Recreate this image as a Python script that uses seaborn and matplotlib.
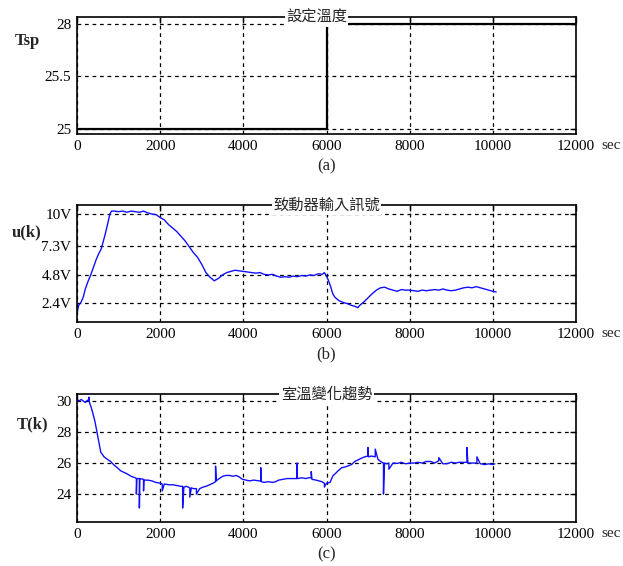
import matplotlib
matplotlib.use("Agg")
import matplotlib.pyplot as plt
import seaborn as sns

sns.set_theme(style="white")
plt.rcParams["font.family"] = ["Liberation Serif", "Noto Sans CJK TC", "DejaVu Sans"]

# (a) set-point temperature
t_a = [0, 6000, 6000, 12000]
tsp = [25.0, 25.0, 26.0, 26.0]
a_ticks = [25.0, 25.5, 26.0]
a_labels = ["25", "25.5", "28"]

# (b) actuator input signal
t_b = [0, 40, 100, 150, 200, 260, 330, 400, 460, 520, 580, 620, 680, 740, 790, 830,
       900, 1000, 1100, 1200, 1300, 1400, 1500, 1600, 1700, 1800, 1900, 2000, 2100,
       2200, 2300, 2400, 2500, 2600, 2700, 2800, 2900, 3000, 3100, 3200, 3300, 3350,
       3400, 3500, 3600, 3700, 3800, 3900, 4000, 4100, 4200, 4300, 4400, 4500, 4600,
       4700, 4800, 4900, 5000, 5100, 5200, 5300, 5400, 5500, 5600, 5700, 5800, 5900,
       5950, 6000, 6050, 6100, 6150, 6200, 6300, 6400, 6500, 6600, 6700, 6750, 6800,
       6900, 7000, 7100, 7200, 7300, 7400, 7500, 7600, 7700, 7800, 7900, 8000, 8100,
       8200, 8300, 8400, 8500, 8600, 8700, 8800, 8900, 9000, 9100, 9200, 9300, 9400,
       9500, 9600, 9700, 9800, 9900, 10000, 10080]
u_b = [1.5, 2.2, 2.5, 2.9, 3.6, 4.2, 4.8, 5.5, 6.1, 6.6, 7.0, 7.5, 8.3, 9.2, 10.0, 10.25,
       10.25, 10.2, 10.25, 10.15, 10.25, 10.2, 10.15, 10.25, 10.1, 10.0, 9.95, 9.7, 9.5,
       9.1, 8.8, 8.5, 8.1, 7.7, 7.2, 6.7, 6.3, 5.7, 5.0, 4.6, 4.3, 4.4,
       4.5, 4.8, 5.0, 5.1, 5.2, 5.15, 5.1, 5.05, 5.0, 4.95, 5.0, 4.85, 4.8,
       4.85, 4.7, 4.6, 4.65, 4.6, 4.7, 4.65, 4.75, 4.7, 4.8, 4.75, 4.9, 4.85,
       5.0, 4.7, 4.3, 3.8, 3.2, 2.9, 2.6, 2.45, 2.35, 2.2, 2.1, 2.0, 2.2,
       2.5, 2.85, 3.2, 3.5, 3.7, 3.75, 3.6, 3.5, 3.4, 3.55, 3.5, 3.5, 3.45,
       3.4, 3.5, 3.45, 3.5, 3.55, 3.5, 3.6, 3.5, 3.45, 3.5, 3.6, 3.7, 3.75,
       3.7, 3.8, 3.7, 3.6, 3.5, 3.4, 3.35]
b_ticks = [2.4, 4.8, 7.3, 10.0]
b_labels = ["2.4V", "4.8V", "7.3V", "10V"]

# (c) room temperature trend
t_c = [0, 50, 100, 150, 200, 250, 290, 290, 300, 340, 372, 400, 430, 452, 480, 507,
       530, 550, 571, 600, 650, 700, 750, 809, 880, 968, 1050, 1130, 1206, 1300, 1400,
       1428, 1428, 1440, 1500, 1500, 1510, 1600, 1600, 1610, 1700, 1800, 1900, 2000,
       2050, 2050, 2100, 2200, 2316, 2400, 2500, 2540, 2540, 2570, 2634, 2713, 2713,
       2750, 2800, 2872, 2872, 2950, 3030, 3100, 3189, 3270, 3332, 3332, 3348, 3420,
       3506, 3580, 3665, 3750, 3830, 3903, 3980, 4062, 4150, 4250, 4379, 4419, 4419,
       4430, 4500, 4600, 4700, 4776, 4850, 4950, 5050, 5173, 5291, 5291, 5300, 5400,
       5500, 5570, 5633, 5633, 5650, 5750, 5887, 5950, 5950, 6000, 6086, 6124, 6160,
       6205, 6280, 6364, 6450, 6500, 6602, 6680, 6760, 6830, 6918, 6997, 6997, 7010,
       7077, 7172, 7172, 7236, 7300, 7370, 7370, 7395, 7450, 7500, 7500, 7600, 7712,
       7800, 7900, 8000, 8109, 8200, 8300, 8400, 8506, 8600, 8700, 8700, 8800, 8902,
       9000, 9100, 9200, 9299, 9378, 9378, 9400, 9500, 9617, 9617, 9696, 9800, 9900,
       10000, 10050]
T_c = [30.1, 30.0, 30.1, 30.0, 29.9, 30.05, 30.0, 30.25, 29.9, 29.6, 29.3, 29.0, 28.7, 28.4, 28.0, 27.6,
       27.3, 27.0, 26.7, 26.6, 26.4, 26.3, 26.2, 26.1, 25.9, 25.7, 25.5, 25.4, 25.3, 25.15, 25.05,
       25.0, 24.0, 25.0, 25.0, 23.1, 25.0, 24.95, 24.2, 24.9, 24.9, 24.85, 24.75, 24.7,
       24.65, 24.2, 24.65, 24.6, 24.6, 24.55, 24.5, 24.5, 23.1, 24.45, 24.5, 24.4, 23.8,
       24.4, 24.35, 24.35, 24.0, 24.35, 24.45, 24.5, 24.6, 24.7, 24.8, 25.8, 24.85, 25.0,
       25.15, 25.2, 25.2, 25.15, 25.2, 25.1, 24.95, 24.9, 24.85, 24.9, 24.85, 24.85, 25.7,
       24.8, 24.75, 24.8, 24.75, 24.8, 24.9, 24.95, 25.0, 25.0, 25.0, 26.0, 25.0, 25.05,
       25.0, 25.05, 25.05, 25.45, 24.95, 24.9, 24.8, 24.7, 24.45, 24.7, 24.75, 25.0, 25.2,
       25.3, 25.5, 25.7, 25.75, 25.8, 25.9, 26.1, 26.2, 26.3, 26.4, 26.45, 27.0, 26.4,
       26.45, 26.4, 26.9, 26.25, 26.1, 26.0, 24.0, 26.0, 25.95, 26.0, 25.6, 26.0, 25.98,
       26.05, 25.95, 26.0, 26.0, 26.05, 26.0, 26.1, 26.1, 26.0, 26.15, 26.35, 25.95, 25.96,
       26.05, 26.0, 26.05, 26.04, 26.05, 27.0, 26.0, 26.0, 26.0, 26.4, 25.96, 25.9, 25.95,
       25.9, 25.95]
c_ticks = [24, 26, 28, 30]
c_labels = ["24", "26", "28", "30"]

x_ticks = [0, 2000, 4000, 6000, 8000, 10000, 12000]
titles = ["設定溫度", "致動器輸入訊號", "室溫變化趨勢"]
ylabels = ["Tsp", "u(k)", "T(k)"]
sublabels = ["(a)", "(b)", "(c)"]

W, H = 623, 566
fig = plt.figure(figsize=(W / 100, H / 100), dpi=100)


def px_axes(left, top, right, bottom):
    return fig.add_axes([left / W, 1 - bottom / H, (right - left) / W, (bottom - top) / H])


axes = [px_axes(77, 17, 576, 134), px_axes(77, 205, 576, 322), px_axes(77, 394, 576, 522)]

sns.lineplot(x=t_a, y=tsp, ax=axes[0], color="black", linewidth=1.6,
             estimator=None, sort=False)
sns.lineplot(x=t_b, y=u_b, ax=axes[1], color="#1010ff", linewidth=1.0,
             estimator=None, sort=False)
sns.lineplot(x=t_c, y=T_c, ax=axes[2], color="#1010ff", linewidth=1.0,
             estimator=None, sort=False)

ylims = [(24.953, 26.066), (0.78, 10.77), (22.2, 30.45)]
yticks = [a_ticks, b_ticks, c_ticks]
ylbls = [a_labels, b_labels, c_labels]
title_x = [0.48, 0.5, 0.5]
ylabel_pos = [(-0.1, 0.73), (-0.1, 0.70), (-0.09, 0.70)]

for i, ax in enumerate(axes):
    ax.set_xlim(0, 12000)
    ax.set_ylim(*ylims[i])
    ax.set_xticks(x_ticks)
    ax.set_xticklabels([str(v) for v in x_ticks], fontsize=11)
    ax.set_yticks(yticks[i])
    ax.set_yticklabels(ylbls[i], fontsize=11)
    ax.tick_params(direction="in", length=4, width=1, top=True, right=True,
                   colors="black", pad=4)
    ax.grid(True, color="black", linestyle=(0, (3, 3)), linewidth=0.9)
    for s in ax.spines.values():
        s.set_color("black")
        s.set_linewidth(1.2)
    ax.set_xlabel(sublabels[i], fontsize=12, labelpad=4)
    ax.set_ylabel(ylabels[i], fontsize=12, rotation=0, fontweight="bold")
    ax.yaxis.set_label_coords(*ylabel_pos[i])
    ax.text(title_x[i], 1.0, titles[i], transform=ax.transAxes, ha="center",
            va="center", fontsize=11, family=["Noto Sans CJK TC", "DejaVu Sans"],
            bbox=dict(facecolor="white", edgecolor="none", pad=1))
    ax.text(1.05, -0.1 * (117 / (ax.get_position().height * H)), "sec",
            transform=ax.transAxes, ha="left", va="center", fontsize=11)

fig.savefig("out.png", dpi=100, facecolor="white")
